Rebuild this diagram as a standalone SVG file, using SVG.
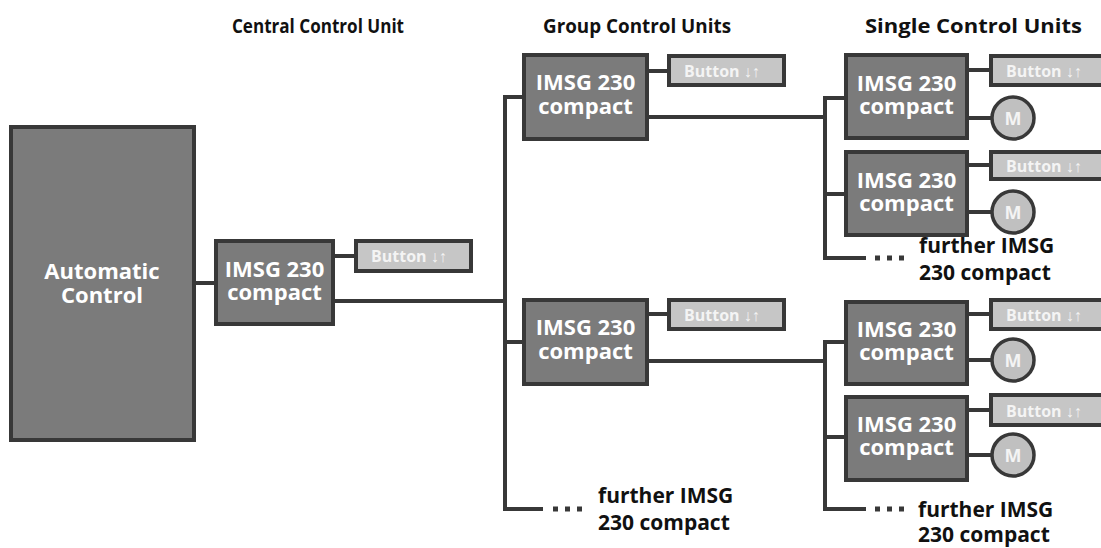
<svg xmlns="http://www.w3.org/2000/svg" width="1101" height="548" viewBox="0 0 1101 548">
<style>
.box{fill:#7b7b7b;stroke:#383838;stroke-width:4}
.btn{fill:#c6c6c6;stroke:#383838;stroke-width:4}
.mot{fill:#c0c0c0;stroke:#383838;stroke-width:3.5}
.wire{fill:none;stroke:#383838;stroke-width:4}
.dots{fill:none;stroke:#383838;stroke-width:5;stroke-dasharray:5 7}
.lbl{font-family:"Open Sans","Liberation Sans",sans-serif;font-weight:bold;font-size:22px;fill:#ffffff;text-anchor:middle}
.btxt{font-family:"Open Sans","Liberation Sans",sans-serif;font-weight:bold;font-size:16px;fill:#f4f4f4}
.mtxt{font-family:"Open Sans","Liberation Sans",sans-serif;font-weight:bold;font-size:18px;fill:#f4f4f4;text-anchor:middle}
.hdr{font-family:"Open Sans","Liberation Sans",sans-serif;font-weight:bold;font-size:20px;fill:#111}
.fur{font-family:"Open Sans","Liberation Sans",sans-serif;font-weight:bold;font-size:21px;fill:#111}
</style>
<g id="headers">
<text class="hdr" x="232" y="33" textLength="172" lengthAdjust="spacingAndGlyphs">Central Control Unit</text>
<text class="hdr" x="543" y="33" textLength="188" lengthAdjust="spacingAndGlyphs">Group Control Units</text>
<text class="hdr" x="865" y="33" textLength="217" lengthAdjust="spacingAndGlyphs">Single Control Units</text>
</g>
<g id="connectors">
<path class="wire" d="M194 283H216"/>
<path class="wire" d="M333 256H356"/>
<path class="wire" d="M333 301H505"/>
<path class="wire" d="M543 509H505V97H524"/>
<path class="wire" d="M505 342H524"/>
<path class="wire" d="M647 71H669"/>
<path class="wire" d="M647 314H669"/>
<path class="wire" d="M647 117H825"/>
<path class="wire" d="M647 361H825"/>
<path class="wire" d="M846 98H825V258H866"/>
<path class="wire" d="M825 194H846"/>
<path class="wire" d="M846 342H825V509H866"/>
<path class="wire" d="M825 437H846"/>
<path class="wire" d="M967 70H991M967 118H992M967 165H991M967 212H992"/>
<path class="wire" d="M967 314H991M967 360H992M967 410H991M967 455H992"/>
<path class="dots" d="M553 509H583"/>
<path class="dots" d="M875 258H905"/>
<path class="dots" d="M875 509H905"/>
</g>
<g id="automatic-control">
<rect class="box" x="11" y="127" width="183" height="313"/>
<text class="lbl" x="102" y="279">Automatic</text>
<text class="lbl" x="102" y="303">Control</text>
</g>
<g id="central-unit">
<rect class="box" x="216" y="241" width="117" height="83"/>
<text class="lbl" x="274.5" y="277">IMSG 230</text>
<text class="lbl" x="274.5" y="300">compact</text>
</g>
<g id="central-button">
<rect class="btn" x="356" y="241" width="115" height="30"/>
<text class="btxt" x="371" y="262">Button ↓↑</text>
</g>
<g id="group-unit-1">
<rect class="box" x="524" y="55" width="123" height="84"/>
<text class="lbl" x="585.5" y="90">IMSG 230</text>
<text class="lbl" x="585.5" y="114">compact</text>
</g>
<g id="group-button-1">
<rect class="btn" x="669" y="56" width="115" height="29"/>
<text class="btxt" x="684" y="77">Button ↓↑</text>
</g>
<g id="group-unit-2">
<rect class="box" x="524" y="300" width="123" height="84"/>
<text class="lbl" x="585.5" y="335">IMSG 230</text>
<text class="lbl" x="585.5" y="359">compact</text>
</g>
<g id="group-button-2">
<rect class="btn" x="669" y="300" width="115" height="29"/>
<text class="btxt" x="684" y="321">Button ↓↑</text>
</g>
<g id="group-further">
<text class="fur" x="598" y="503">further IMSG</text>
<text class="fur" x="598" y="530">230 compact</text>
</g>
<g id="single-unit-1">
<rect class="box" x="846" y="55" width="121" height="83"/>
<text class="lbl" x="906.5" y="91">IMSG 230</text>
<text class="lbl" x="906.5" y="114">compact</text>
</g>
<g id="single-button-1">
<rect class="btn" x="991" y="56" width="115" height="29"/>
<text class="btxt" x="1006" y="77">Button ↓↑</text>
</g>
<g id="single-motor-1">
<circle class="mot" cx="1013" cy="118" r="21"/>
<text class="mtxt" x="1013" y="125">M</text>
</g>
<g id="single-unit-2">
<rect class="box" x="846" y="152" width="121" height="83"/>
<text class="lbl" x="906.5" y="188">IMSG 230</text>
<text class="lbl" x="906.5" y="211">compact</text>
</g>
<g id="single-button-2">
<rect class="btn" x="991" y="152" width="115" height="27"/>
<text class="btxt" x="1006" y="172">Button ↓↑</text>
</g>
<g id="single-motor-2">
<circle class="mot" cx="1013" cy="212" r="21"/>
<text class="mtxt" x="1013" y="219">M</text>
</g>
<g id="single-further-1">
<text class="fur" x="919" y="253">further IMSG</text>
<text class="fur" x="919" y="280">230 compact</text>
</g>
<g id="single-unit-3">
<rect class="box" x="846" y="302" width="121" height="82"/>
<text class="lbl" x="906.5" y="337">IMSG 230</text>
<text class="lbl" x="906.5" y="360">compact</text>
</g>
<g id="single-button-3">
<rect class="btn" x="991" y="300" width="115" height="29"/>
<text class="btxt" x="1006" y="321">Button ↓↑</text>
</g>
<g id="single-motor-3">
<circle class="mot" cx="1013" cy="360" r="21"/>
<text class="mtxt" x="1013" y="367">M</text>
</g>
<g id="single-unit-4">
<rect class="box" x="846" y="397" width="121" height="83"/>
<text class="lbl" x="906.5" y="432">IMSG 230</text>
<text class="lbl" x="906.5" y="455">compact</text>
</g>
<g id="single-button-4">
<rect class="btn" x="991" y="395" width="115" height="30"/>
<text class="btxt" x="1006" y="417">Button ↓↑</text>
</g>
<g id="single-motor-4">
<circle class="mot" cx="1013" cy="455" r="21"/>
<text class="mtxt" x="1013" y="462">M</text>
</g>
<g id="single-further-2">
<text class="fur" x="918" y="517">further IMSG</text>
<text class="fur" x="918" y="542">230 compact</text>
</g>
</svg>
